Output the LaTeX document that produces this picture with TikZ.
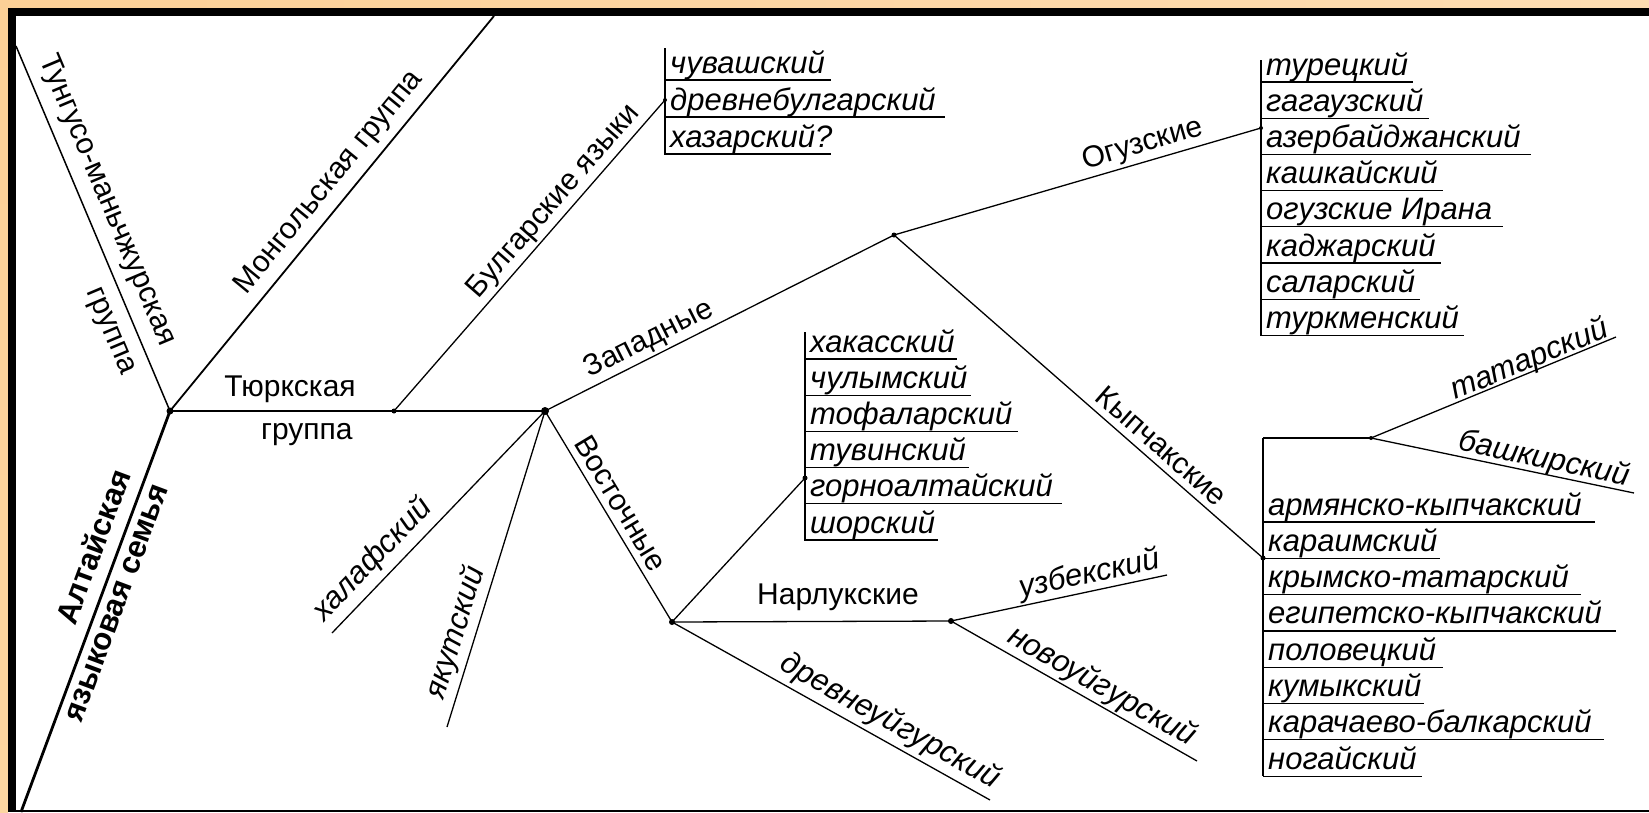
\documentclass[tikz,border=0pt]{standalone}
\usepackage{fontspec}
\setmainfont{Liberation Sans}
\definecolor{frA}{RGB}{251,208,150}
\definecolor{frB}{RGB}{250,172,118}
\definecolor{frC}{RGB}{252,214,160}
\definecolor{frT}{RGB}{252,220,178}
\begin{document}
\begin{tikzpicture}[x=1pt,y=-1pt,
  grp/.style={font=\fontsize{30}{30}\selectfont, inner sep=0pt, text height=21pt, text depth=6pt},
  grpb/.style={font=\fontsize{31}{31}\selectfont\bfseries, inner sep=0pt, text height=22pt, text depth=6pt},
  slang/.style={font=\fontsize{31}{31}\selectfont\itshape, inner sep=0pt, text height=22pt, text depth=6pt},
  lang/.style={font=\fontsize{31}{31}\selectfont\itshape, inner sep=0pt, anchor=base west},
  br/.style={line width=1.3pt},
  ul/.style={line width=1.2pt},
  jdot/.style={circle, fill, inner sep=0pt, minimum size=#1},
  jdot/.default=5pt]
\useasboundingbox (0,0) rectangle (1649,812);
% frame
\fill[white] (0,0) rectangle (1649,812);
\shade[top color=frA, middle color=frB, bottom color=frC] (0,0) rectangle (8,812);
\shade[left color=frA, right color=frT] (0,0) rectangle (1649,8);
\fill[black] (8,8) rectangle (1649,16);
\fill[black] (8,8) rectangle (16,812);
\fill[black] (8,810) rectangle (1649,812);
% junction coordinates
\coordinate (A) at (170,411);
\coordinate (B) at (394,411);
\coordinate (C) at (545,411);
\coordinate (Tg) at (16,46);
\coordinate (Mg) at (494,16);
\coordinate (Al) at (21,812);
\coordinate (Bg) at (665,100);
\coordinate (E) at (894,235);
\coordinate (F) at (1261,128);
\coordinate (G) at (1263,558);
\coordinate (D) at (672,622);
\coordinate (I) at (805,478);
\coordinate (J) at (951,621);
\coordinate (Uz) at (1167,575);
\coordinate (Nu) at (1197,761);
\coordinate (Du) at (990,800);
\coordinate (Xh) at (332,633);
\coordinate (Xy) at (447,727);
\coordinate (H) at (1371,438);
\coordinate (Ta) at (1616,337);
\coordinate (Ba) at (1634,493);
% main branches
\draw[line width=2.8pt] (Al) -- (A)
  node[grpb, pos=0.64, sloped, above=22pt, anchor=center] (alt1) {Алтайская}
  node[grpb, pos=0.536, sloped, below=18pt, anchor=center] (alt2) {языковая семья};
\draw[line width=1.5pt] (Tg) -- (A)
  node[grp, pos=0.449, sloped, above=24pt, anchor=center] (tg1) {Тунгусо-маньчжурская}
  node[grp, pos=0.756, sloped, below=23pt, anchor=center] (tg2) {группа};
\draw[line width=1.8pt] (A) -- (Mg)
  node[grp, pos=0.543, sloped, above=22pt, anchor=center] (mg1) {Монгольская группа};
\draw[line width=2pt] (A) -- (B) -- (C);
\path (A) -- (C)
  node[grp, pos=0.32, above=22pt, anchor=center] (tu1) {Тюркская}
  node[grp, pos=0.365, below=21pt, anchor=center] (tu2) {группа};
\draw[br] (B) -- (Bg)
  node[grp, pos=0.638, sloped, above=17pt, anchor=center] (bl) {Булгарские языки};
\draw[br] (C) -- (E)
  node[grp, pos=0.32, sloped, above=17pt, anchor=center] (zp) {Западные};
\draw[br] (E) -- (F)
  node[grp, pos=0.691, sloped, above=17pt, anchor=center] (og) {Огузские};
\draw[br] (E) -- (G)
  node[grp, pos=0.694, sloped, above=15pt, anchor=center] (kp) {Кыпчакские};
\draw[br] (C) -- (D)
  node[grp, pos=0.48, sloped, above=15pt, anchor=center] (vs) {Восточные};
\draw[br] (Xh) -- (C)
  node[slang, pos=0.264, sloped, above=21pt, anchor=center] (xh) {халафский};
\draw[br] (Xy) -- (C)
  node[slang, pos=0.28, sloped, above=19pt, anchor=center] (xy) {якутский};
\draw[br] (D) -- (I);
\draw[br] (D) -- (J)
  node[grp, pos=0.595, above=24pt, anchor=center] (nr) {Нарлукские};
\draw[br] (J) -- (Uz)
  node[slang, pos=0.659, sloped, above=16pt, anchor=center] (uz) {узбекский};
\draw[br] (J) -- (Nu)
  node[slang, pos=0.579, sloped, above=17pt, anchor=center] (nu) {новоуйгурский};
\draw[br] (D) -- (Du)
  node[slang, pos=0.656, sloped, above=19pt, anchor=center] (du) {древнеуйгурский};
\draw[br] (G |- H) -- (H);
\draw[br] (H) -- (Ta)
  node[slang, pos=0.665, sloped, above=11pt, anchor=center] (ta) {татарский};
\draw[br] (H) -- (Ba)
  node[slang, pos=0.647, sloped, above=14pt, anchor=center] (ba) {башкирский};
% lists
\draw[ul] (665,48) -- (665,155);
\foreach \t/\e [count=\i from 0] in {чувашский/831,древнебулгарский/945,хазарский?/831}{
  \pgfmathsetmacro\yy{80+37*\i}
  \node[lang] (bgl\i) at (670,\yy-7) {\t};
  \draw[ul] (665,\yy) -- (\e,\yy);
}
\draw[ul] (1261,60) -- (1261,336);
\foreach \t/\e [count=\i from 0] in {турецкий/1413,гагаузский/1429,азербайджанский/1531,кашкайский/1443,огузские Ирана/1503,каджарский/1441,саларский/1420,туркменский/1464}{
  \pgfmathsetmacro\yy{82+36.2*\i}
  \node[lang] (ogl\i) at (1266,\yy-7) {\t};
  \draw[ul] (1261,\yy) -- (\e,\yy);
}
\draw[ul] (805,332) -- (805,541);
\foreach \t/\e [count=\i from 0] in {хакасский/957,чулымский/971,тофаларский/1018,тувинский/969,горноалтайский/1062,шорский/938}{
  \pgfmathsetmacro\yy{359+36.2*\i}
  \node[lang] (sal\i) at (810,\yy-7) {\t};
  \draw[ul] (805,\yy) -- (\e,\yy);
}
\draw[ul] (1263,438) -- (1263,776);
\foreach \t/\e [count=\i from 0] in {армянско-кыпчакский/1595,караимский/1440,крымско-татарский/1581,египетско-кыпчакский/1616,половецкий/1443,кумыкский/1424,карачаево-балкарский/1604,ногайский/1422}{
  \pgfmathsetmacro\yy{522+36.3*\i}
  \node[lang] (kpl\i) at (1268,\yy-7) {\t};
  \draw[ul] (1263,\yy) -- (\e,\yy);
}
% junction dots
\node[jdot=7pt] at (A) {};
\node[jdot=5pt] at (B) {};
\node[jdot=8pt] at (C) {};
\node[jdot=5pt] at (E) {};
\node[jdot=4pt] at (F) {};
\node[jdot=5pt] at (G) {};
\node[jdot=6pt] at (D) {};
\node[jdot=5pt] at (I) {};
\node[jdot=6pt] at (J) {};
\node[jdot=4pt] at (H) {};
\node[jdot=4pt] at (Bg) {};
\end{tikzpicture}
\end{document}
